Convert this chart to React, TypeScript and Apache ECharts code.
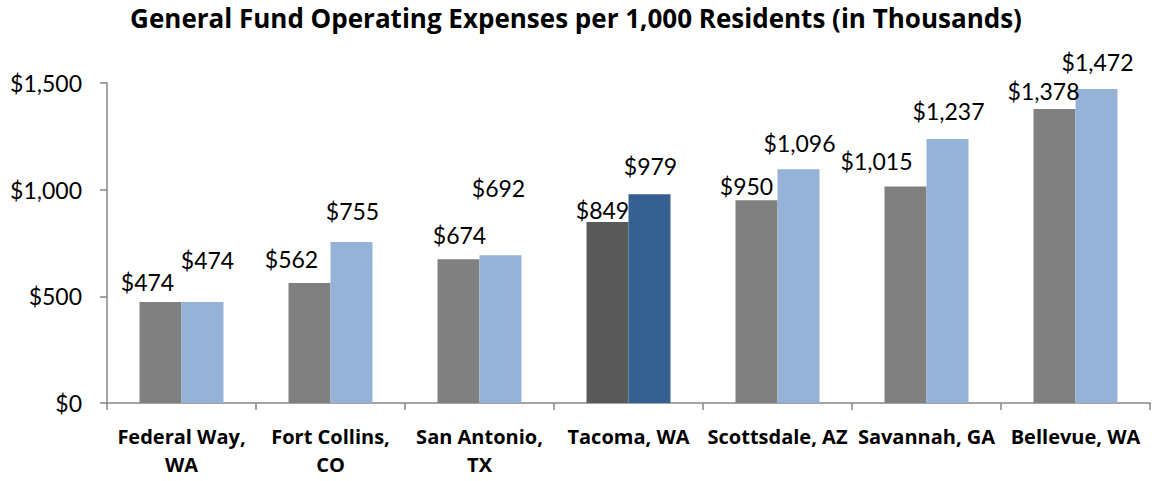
import React, { useEffect, useRef } from "react";
import * as echarts from "echarts";

const categories = [
  "Federal Way,\nWA",
  "Fort Collins,\nCO",
  "San Antonio,\nTX",
  "Tacoma, WA",
  "Scottsdale, AZ",
  "Savannah, GA",
  "Bellevue, WA",
];
const seriesA = [474, 562, 674, 849, 950, 1015, 1378];
const seriesB = [474, 755, 692, 979, 1096, 1237, 1472];
const yTicks = [0, 500, 1000, 1500];
const highlightIndex = 3;

// label nudges (px) as placed in the reference
const offsetsA: [number, number][] = [
  [-13, -3], [-18, -8], [1, -8], [-5, 5], [-10, 2], [-29, -9], [-11, -2],
];
const offsetsB: [number, number][] = [
  [5, -25], [1, -14], [-2, -51], [1, -12], [1, -10], [1, -12], [1, -10],
];

const fmt = (v: number) => "$" + v.toLocaleString("en-US");
const FONT = "Lato";
const BOLD_FONT = "Open Sans";

export default function App() {
  const ref = useRef<HTMLDivElement>(null);
  useEffect(() => {
    if (!ref.current) return;
    const chart = echarts.init(ref.current, undefined, { renderer: "svg" });
    const mk = (vals: number[], offs: [number, number][], base: string, hi: string) =>
      vals.map((v, i) => ({
        value: v,
        itemStyle: { color: i === highlightIndex ? hi : base },
        label: { offset: offs[i] },
      }));
    chart.setOption({
      animation: false,
      title: {
        text: "General Fund Operating Expenses per 1,000 Residents (in Thousands)",
        left: "center",
        top: 0,
        textStyle: { fontFamily: BOLD_FONT, fontWeight: "bold", fontSize: 26, color: "#000" },
      },
      grid: { left: 107, right: 2, top: 83, bottom: 78, containLabel: false, outerBoundsMode: "none" },
      xAxis: {
        type: "category",
        data: categories,
        axisLine: { lineStyle: { color: "#868686", width: 1.5 } },
        axisTick: { show: true, length: 7, lineStyle: { color: "#868686", width: 1.5 } },
        axisLabel: {
          fontFamily: BOLD_FONT,
          fontWeight: "bold",
          fontSize: 20,
          color: "#000",
          lineHeight: 28,
          margin: 19,
          interval: 0,
        },
      },
      yAxis: {
        type: "value",
        min: 0,
        max: 1500,
        interval: 500,
        splitLine: { show: false },
        axisLine: { show: true, lineStyle: { color: "#868686", width: 1.5 } },
        axisTick: { show: true, length: 7, lineStyle: { color: "#868686", width: 1.5 } },
        axisLabel: {
          fontFamily: FONT,
          fontSize: 23,
          color: "#000",
          margin: 25,
          formatter: (v: number) => (yTicks.includes(v) ? fmt(v) : ""),
        },
      },
      series: [
        {
          type: "bar",
          barWidth: 42,
          barGap: "0%",
          data: mk(seriesA, offsetsA, "#808080", "#595959"),
          label: {
            show: true,
            position: "top",
            distance: 5,
            fontFamily: FONT,
            fontSize: 23,
            color: "#000",
            formatter: (p: any) => fmt(p.value),
          },
        },
        {
          type: "bar",
          barWidth: 42,
          barGap: "0%",
          data: mk(seriesB, offsetsB, "#95B3D7", "#366092"),
          label: {
            show: true,
            position: "top",
            distance: 5,
            fontFamily: FONT,
            fontSize: 23,
            color: "#000",
            formatter: (p: any) => fmt(p.value),
          },
        },
      ],
    });
    return () => chart.dispose();
  }, []);
  return <div ref={ref} style={{ width: 1152, height: 481, position: "absolute", left: 0, top: 0 }} />;
}
